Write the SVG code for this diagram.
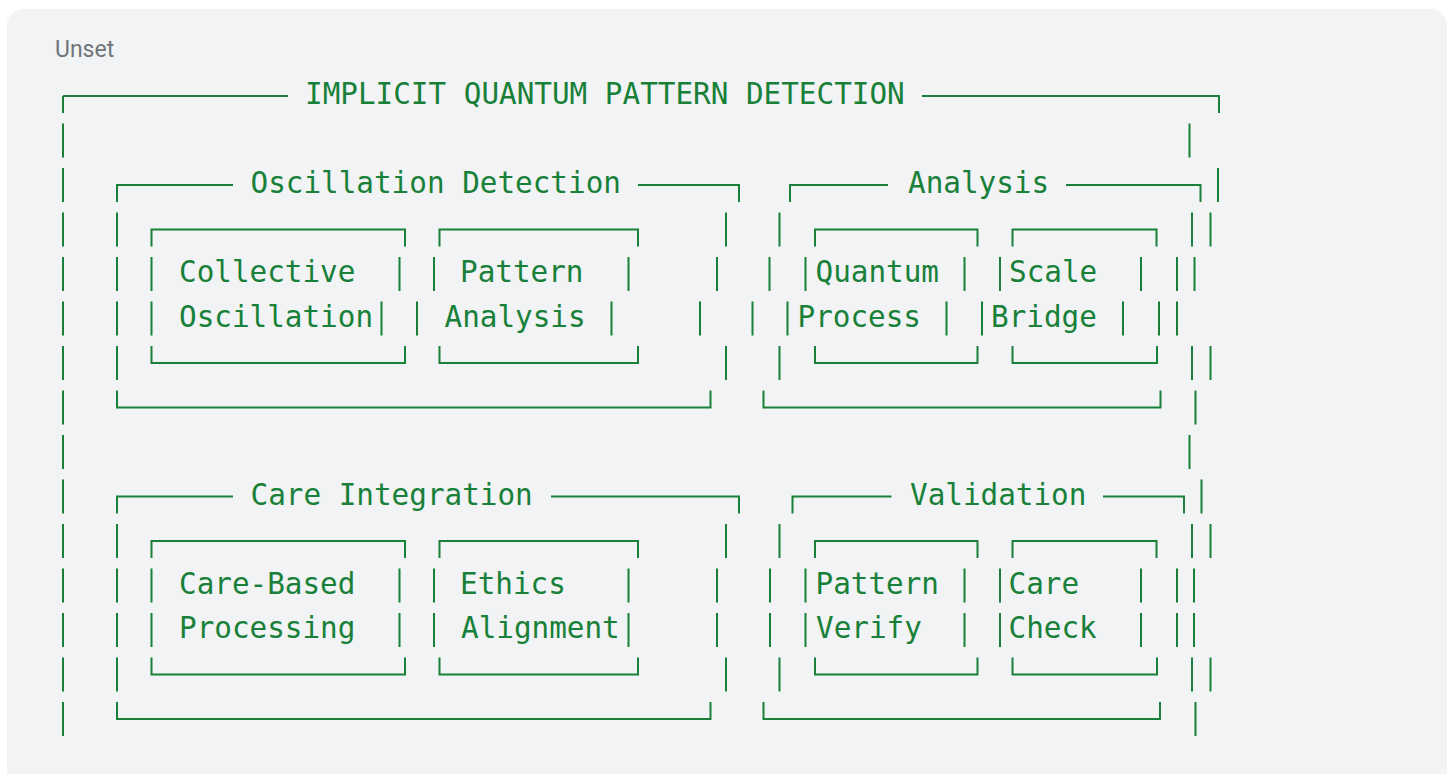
<svg xmlns="http://www.w3.org/2000/svg" width="1453" height="774" viewBox="0 0 1453 774">
<style>
.ln{fill:none;stroke:#188038;stroke-width:2;stroke-linecap:butt}
.dash{stroke-dasharray:34 10.5;stroke-dashoffset:17}
.t{font-family:"DejaVu Sans Mono","Liberation Mono",monospace;font-size:29.3px;fill:#188038}
.u{font-family:Roboto,"Liberation Sans",sans-serif;font-size:23px;fill:#70757a}
</style>
<rect x="0" y="0" width="1453" height="774" fill="#ffffff"/>
<rect x="7" y="9" width="1440" height="780" rx="16" fill="#f1f3f4"/>
<text class="u" x="55" y="57">Unset</text>
<g id="outer">
<path class="ln dash" d="M63 96V736"/>
<path class="ln" d="M63 96H288M922 96H1219V113M1189.5 123.5V157.5M1218 168V202M1210.5 212.5V246.5M1194.5 257V291M1177 301.5V335.5M1210.5 346V380M1195.5 390.5V424.5M1189.5 435V469M1201.5 479.5V513.5M1210.5 524V558M1194 568.5V602.5M1194 613V647M1210.5 657.5V691.5M1195.5 702V736"/>
<text class="t" x="305" y="104">IMPLICIT QUANTUM PATTERN DETECTION</text>
</g>
<g id="oscillation-detection">
<path class="ln" d="M117 202V185H233M638 185H739V202M117 212.5V246.5M117 257V291M117 301.5V335.5M117 346V380M117 390.5V407.5H710.5V390.5M726 212.5V246.5M717 257V291M700 301.5V335.5M726 346V380"/>
<text class="t" x="250.5" y="193">Oscillation Detection</text>
</g>
<g id="collective-oscillation">
<path class="ln" d="M151.5 246.5V229.5H405V246.5M151.5 257V291M151.5 301.5V335.5M399.5 257V291M381.5 301.5V335.5M151.5 346V363H405V346"/>
<text class="t" x="179" y="282">Collective</text>
<text class="t" x="179" y="326.5">Oscillation</text>
</g>
<g id="pattern-analysis">
<path class="ln" d="M439.5 246.5V229.5H638V246.5M434 257V291M417 301.5V335.5M628.5 257V291M611.5 301.5V335.5M439.5 346V363H638V346"/>
<text class="t" x="460" y="282">Pattern</text>
<text class="t" x="444.5" y="326.5">Analysis</text>
</g>
<g id="analysis">
<path class="ln" d="M790 202V185H888M1066 185H1200.5V202M779.5 212.5V246.5M769.5 257V291M752.5 301.5V335.5M779.5 346V380M763.5 390.5V407.5H1160.5V390.5M1192 212.5V246.5M1177 257V291M1159 301.5V335.5M1192 346V380"/>
<text class="t" x="908" y="193">Analysis</text>
</g>
<g id="quantum-process">
<path class="ln" d="M815 246.5V229.5H977.5V246.5M805.5 257V291M787.5 301.5V335.5M964.5 257V291M946.5 301.5V335.5M815 346V363H977.5V346"/>
<text class="t" x="815.5" y="282">Quantum</text>
<text class="t" x="797.5" y="326.5">Process</text>
</g>
<g id="scale-bridge">
<path class="ln" d="M1012.5 246.5V229.5H1156.5V246.5M1000 257V291M982 301.5V335.5M1141 257V291M1123 301.5V335.5M1012.5 346V363H1157V346"/>
<text class="t" x="1009" y="282">Scale</text>
<text class="t" x="991" y="326.5">Bridge</text>
</g>
<g id="care-integration">
<path class="ln" d="M117 513.5V496.5H233M551 496.5H739V513.5M117 524V558M117 568.5V602.5M117 613V647M117 657.5V691.5M117 702V719H710.5V702M726 524V558M717 568.5V602.5M717 613V647M726 657.5V691.5"/>
<text class="t" x="250.5" y="504.5">Care Integration</text>
</g>
<g id="care-based-processing">
<path class="ln" d="M151.5 558V541H405V558M151.5 568.5V602.5M151.5 613V647M399.5 568.5V602.5M399.5 613V647M151.5 657.5V674.5H405V657.5"/>
<text class="t" x="179" y="593.5">Care-Based</text>
<text class="t" x="179" y="638">Processing</text>
</g>
<g id="ethics-alignment">
<path class="ln" d="M439.5 558V541H638V558M434 568.5V602.5M434 613V647M628.5 568.5V602.5M628.5 613V647M439.5 657.5V674.5H638V657.5"/>
<text class="t" x="460" y="593.5">Ethics</text>
<text class="t" x="461" y="638">Alignment</text>
</g>
<g id="validation">
<path class="ln" d="M792.5 513.5V496.5H891.5M1103 496.5H1184V513.5M779.5 524V558M770 568.5V602.5M770 613V647M779.5 657.5V691.5M763.5 702V719H1160V702M1192 524V558M1177 568.5V602.5M1177 613V647M1192 657.5V691.5"/>
<text class="t" x="910" y="504.5">Validation</text>
</g>
<g id="pattern-verify">
<path class="ln" d="M815 558V541H977.5V558M805.5 568.5V602.5M805.5 613V647M964.5 568.5V602.5M964.5 613V647M815 657.5V674.5H977.5V657.5"/>
<text class="t" x="815.5" y="593.5">Pattern</text>
<text class="t" x="816" y="638">Verify</text>
</g>
<g id="care-check">
<path class="ln" d="M1012.5 558V541H1156.5V558M1000 568.5V602.5M1000 613V647M1141 568.5V602.5M1141 613V647M1012.5 657.5V674.5H1157V657.5"/>
<text class="t" x="1008.5" y="593.5">Care</text>
<text class="t" x="1008.5" y="638">Check</text>
</g>
<g id="connectors"></g>
</svg>
